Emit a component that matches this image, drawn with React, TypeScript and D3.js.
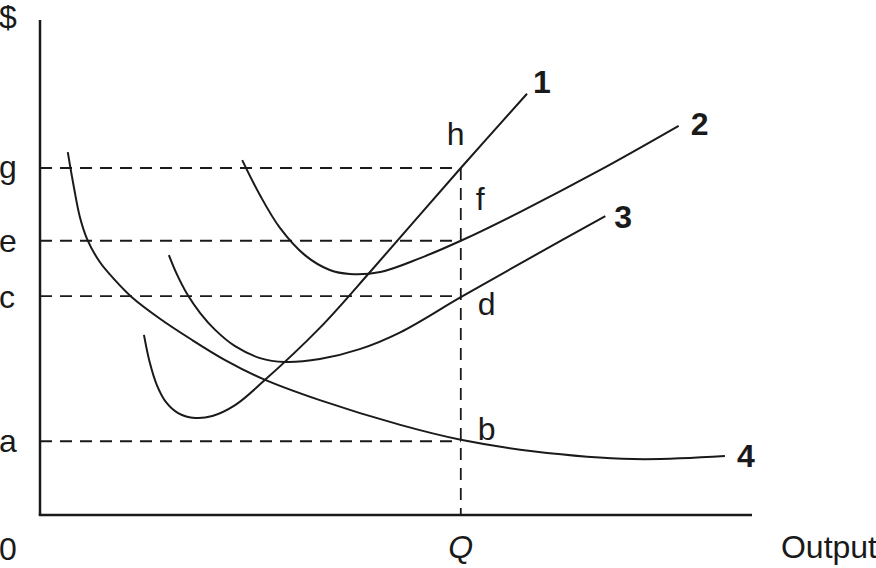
import React from "react";
import * as d3 from "d3";

// Cost curves (x = output units 0..100, y = $ units 0..100)
const curve1X = [14.6, 15.4, 16.4, 17.7, 19.4, 21.8, 24.2, 27.4, 31.3, 39.3, 46.6, 59.1, 68.4];
const curve1Y = [36.4, 30.9, 26.3, 22.8, 20.6, 19.6, 20.0, 22.2, 26.9, 37.8, 49.5, 70.1, 85.1];

const curve2X = [28.4, 30.9, 33.7, 37.2, 40.7, 43.5, 47.8, 53.4, 59.1, 67.4, 78.7, 89.7];
const curve2Y = [71.7, 64.6, 58.0, 52.5, 49.5, 48.7, 49.1, 51.9, 55.4, 61.2, 69.7, 78.6];

const curve3X = [18.1, 19.2, 20.6, 22.5, 24.6, 27.4, 30.9, 34.4, 39.3, 44.9, 50.6, 59.1, 68.8, 79.4];
const curve3Y = [52.5, 48.7, 44.8, 40.8, 37.4, 34.1, 31.7, 30.9, 31.5, 33.5, 36.9, 44.0, 51.9, 60.4];

const curve4X = [3.9, 4.8, 5.6, 6.6, 8.4, 10.5, 12.9, 16.9, 21.1, 26.0, 31.3, 39.3, 50.6, 59.1, 69.2, 83.3, 96.2];
const curve4Y = [73.3, 65.9, 60.2, 55.8, 51.1, 47.5, 44.0, 39.6, 35.6, 31.3, 27.5, 23.2, 18.2, 15.2, 12.9, 11.3, 11.9];

const curveLabels = ["1", "2", "3", "4"];

// Reference levels
const Q = 59.1;
const levelNames = ["g", "e", "c", "a"];
const levelValues = [70.1, 55.4, 44.2, 14.9];
const pointNames = ["h", "f", "d", "b"];

const W = 876;
const H = 568;
const FONT = "'Liberation Sans', Arial, Helvetica, sans-serif";
const FS = 32;

export default function App() {
  const x = d3.scaleLinear().domain([0, 100]).range([40, 752]);
  const y = d3.scaleLinear().domain([0, 100]).range([515, 20]);

  const line = d3
    .line<[number, number]>()
    .x((d) => x(d[0]))
    .y((d) => y(d[1]))
    .curve(d3.curveCatmullRom.alpha(0.5));

  const series = [
    [curve1X, curve1Y],
    [curve2X, curve2Y],
    [curve3X, curve3Y],
    [curve4X, curve4Y],
  ].map(([xs, ys]) => xs.map((v, i) => [v, ys[i]] as [number, number]));

  // label placements relative to each curve's end
  const labelOffsets = [
    [6, -1],
    [12, 9],
    [9, 12],
    [12, 11],
  ];

  const levelBaselineOffsets = [10, 11, 12, 11];
  const pointOffsets = [
    [-14, -23],
    [15, 42],
    [17, 19],
    [17, -1],
  ];
  const pointYs = [levelValues[0], levelValues[0], levelValues[2], levelValues[3]];

  const dash = "12 8";
  const stroke = "#1a1a1a";

  return (
    <svg width={W} height={H} style={{ position: "absolute", left: 0, top: 0, background: "#fff" }}>
      <rect x={0} y={0} width={W} height={H} fill="#fff" />
      {/* dashed guides */}
      {levelValues.map((v, i) => (
        <line
          key={"h" + i}
          x1={x(0)}
          x2={x(Q)}
          y1={y(v)}
          y2={y(v)}
          stroke={stroke}
          strokeWidth={1.8}
          strokeDasharray={dash}
        />
      ))}
      <line
        x1={x(Q)}
        x2={x(Q)}
        y1={y(levelValues[0])}
        y2={y(0)}
        stroke={stroke}
        strokeWidth={1.8}
        strokeDasharray={dash}
      />
      {/* curves */}
      {series.map((pts, i) => (
        <path key={"c" + i} d={line(pts) || ""} fill="none" stroke={stroke} strokeWidth={2} />
      ))}
      {/* axes */}
      <line x1={x(0)} x2={x(0)} y1={y(100)} y2={y(0)} stroke={stroke} strokeWidth={2.5} />
      <line x1={x(0) - 1.25} x2={x(100)} y1={y(0)} y2={y(0)} stroke={stroke} strokeWidth={2.5} />
      {/* curve labels */}
      {series.map((pts, i) => {
        const last = pts[pts.length - 1];
        return (
          <text
            key={"l" + i}
            x={x(last[0]) + labelOffsets[i][0]}
            y={y(last[1]) + labelOffsets[i][1]}
            fontFamily={FONT}
            fontWeight="bold"
            fontSize={FS}
            fill={stroke}
          >
            {curveLabels[i]}
          </text>
        );
      })}
      {/* y level labels */}
      {levelNames.map((n, i) => (
        <text
          key={"y" + i}
          x={-1}
          y={y(levelValues[i]) + levelBaselineOffsets[i]}
          fontFamily={FONT}
          fontSize={FS}
          fill={stroke}
        >
          {n}
        </text>
      ))}
      {/* point labels */}
      {pointNames.map((n, i) => (
        <text
          key={"p" + i}
          x={x(Q) + pointOffsets[i][0]}
          y={y(pointYs[i]) + pointOffsets[i][1]}
          fontFamily={FONT}
          fontSize={FS}
          fill={stroke}
        >
          {n}
        </text>
      ))}
      <text x={-1} y={28} fontFamily={FONT} fontSize={FS} fill={stroke}>
        $
      </text>
      <text x={-1} y={560} fontFamily={FONT} fontSize={FS} fill={stroke}>
        0
      </text>
      <text
        x={x(Q)}
        y={558}
        textAnchor="middle"
        fontFamily={FONT}
        fontStyle="italic"
        fontSize={FS}
        fill={stroke}
      >
        Q
      </text>
      <text x={877} y={558} textAnchor="end" fontFamily={FONT} fontSize={FS} fill={stroke}>
        Output
      </text>
    </svg>
  );
}
